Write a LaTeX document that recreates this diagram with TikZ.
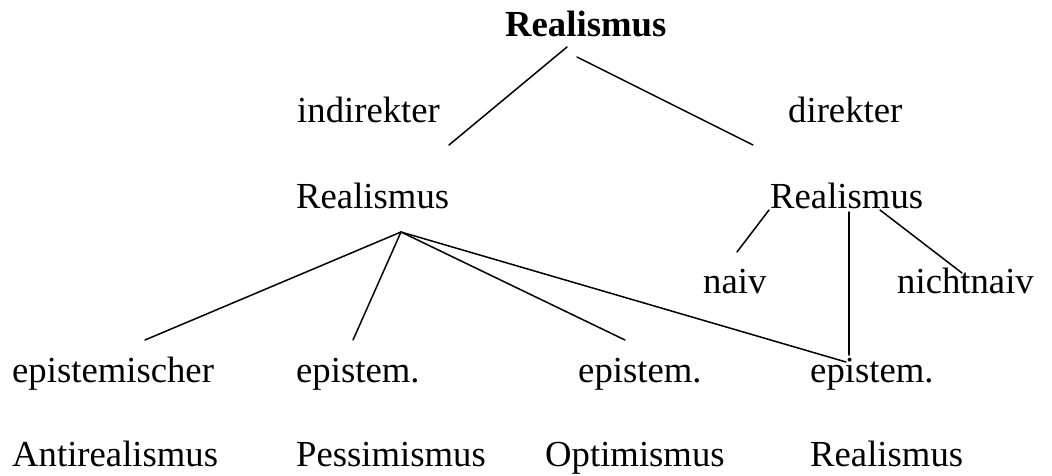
\documentclass[tikz,border=0pt]{standalone}
\usepackage{fontspec}
\setmainfont{Liberation Serif}
\begin{document}
\begin{tikzpicture}[x=1pt,y=-1pt,
  lbl/.style={inner sep=0pt,anchor=base west,font=\fontsize{36.7}{44}\selectfont},
  edge/.style={line width=1.5pt,line cap=round}]
\useasboundingbox[fill=white] (0,0) rectangle (1052,476);
% texts
\node[lbl,font=\fontsize{36.7}{44}\selectfont\bfseries] (root) at (505,37) {Realismus};
\node[lbl] (ind) at (297,123) {indirekter};
\node[lbl] (dir) at (788,123) {direkter};
\node[lbl] (rl) at (296,208) {Realismus};
\node[lbl] (rr) at (770,208) {Realismus};
\node[lbl] (naiv) at (703,293) {naiv};
\node[lbl] (nn) at (897,293) {nichtnaiv};
\node[lbl] (e1) at (12,382) {epistemischer};
\node[lbl] (e2) at (296,382) {epistem.};
\node[lbl] (e3) at (578,382) {epistem.};
\node[lbl] (e4) at (810,382) {epistem.};
\node[lbl] (b1) at (12,466) {Antirealismus};
\node[lbl] (b2) at (296,466) {Pessimismus};
\node[lbl] (b3) at (545,466) {Optimismus};
\node[lbl] (b4) at (810,466) {Realismus};
% connector end points
\coordinate (rootL) at (567,47);
\coordinate (rootR) at (577,57);
\coordinate (indE) at (449,145);
\coordinate (dirE) at (753,145);
\coordinate (hub) at (401,232);
\coordinate (e1E) at (145,340);
\coordinate (e2E) at (353,340);
\coordinate (e3E) at (625,340);
\coordinate (e4E) at (846,362);
\coordinate (rrN) at (769,210);
\coordinate (naivE) at (737,252);
\coordinate (rrV) at (849,212);
\coordinate (e4V) at (849,355);
\coordinate (rrNN) at (880,210);
\coordinate (nnE) at (962,273);
% connectors
\draw[edge] (rootL) -- (indE);
\draw[edge] (rootR) -- (dirE);
\draw[edge] (hub) -- (e1E);
\draw[edge] (hub) -- (e2E);
\draw[edge] (hub) -- (e3E);
\draw[edge] (hub) -- (e4E);
\draw[edge] (rrN) -- (naivE);
\draw[edge] (rrV) -- (e4V);
\draw[edge] (rrNN) -- (nnE);
\end{tikzpicture}
\end{document}
